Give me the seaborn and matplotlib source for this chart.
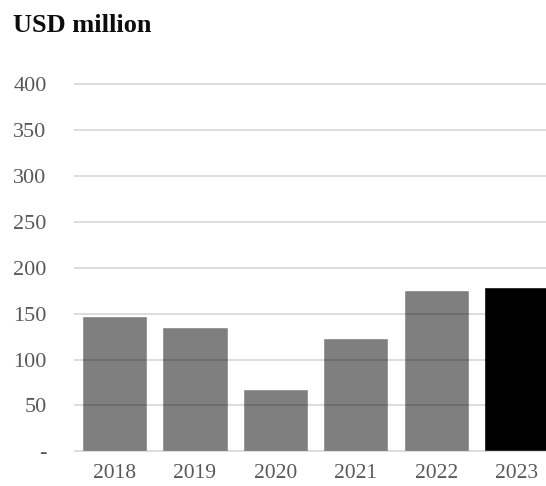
import matplotlib
matplotlib.use("Agg")
import matplotlib.pyplot as plt
import seaborn as sns
import pandas as pd

# Annual values, USD million
years = ["2018", "2019", "2020", "2021", "2022", "2023"]
values = [147, 135, 68, 124, 175.5, 179]
bar_colors = ["#7f7f7f", "#7f7f7f", "#7f7f7f", "#7f7f7f", "#7f7f7f", "#000000"]
y_ticks = [0, 50, 100, 150, 200, 250, 300, 350, 400]
y_tick_labels = ["-", "50", "100", "150", "200", "250", "300", "350", "400"]

sns.set_style("white")
plt.rcParams["font.family"] = ["Liberation Serif", "DejaVu Serif"]

df = pd.DataFrame({"year": years, "value": values})

fig = plt.figure(figsize=(5.46, 4.86), dpi=100)
ax = fig.add_axes([0.1361, 0.0657, 0.884, 0.7702])

sns.barplot(data=df, x="year", y="value", hue="year", palette=bar_colors,
            width=0.81, legend=False, saturation=1, ax=ax)

ax.set_ylim(-3, 405)
ax.set_xlim(-0.5, 5.5)
ax.set_yticks(y_ticks)
ax.set_yticklabels(y_tick_labels)
ax.set_xlabel("")
ax.set_ylabel("")

# gridlines sit on top of the bars, semi-transparent
ax.set_axisbelow(False)
ax.yaxis.grid(True, color="black", alpha=0.15, linewidth=1.3)
ax.xaxis.grid(False)
for s in ax.spines.values():
    s.set_visible(False)

ax.tick_params(axis="y", length=0, pad=20, labelsize=16, labelcolor="#595959")
ax.tick_params(axis="x", length=0, pad=7, labelsize=15.5, labelcolor="#595959")

fig.text(13 / 546, 1 - 31.7 / 486, "USD million", fontsize=19, fontweight="bold",
         color="#0d0d0d", va="baseline", ha="left")

fig.savefig("out.png", dpi=100, facecolor="white")
